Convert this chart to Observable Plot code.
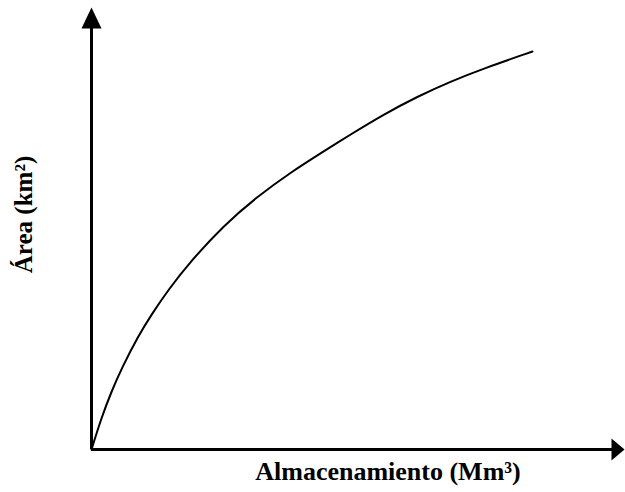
<!DOCTYPE html>
<html>
<head>
<meta charset="utf-8">
<script src="https://cdn.jsdelivr.net/npm/d3@7"></script>
<script src="https://cdn.jsdelivr.net/npm/@observablehq/plot@0.6"></script>
<style>
  body { margin: 0; background: #fff; }
  #chart svg { display: block; }
</style>
</head>
<body>
<div id="chart"></div>
<script>
// Curve (arbitrary units: storage vs. area)
const storage = [0, 10, 20, 30, 47, 60, 77, 99, 132, 166, 199, 232, 259, 292, 326, 359, 392, 441];
const area    = [0, 32, 58, 81, 114, 135, 160, 188, 224, 253, 277, 298, 315, 335, 353, 368, 381, 398];
const xMax = 533;
const yMax = 442;
const xLabel = "Almacenamiento (Mm³)";
const yLabel = "Área (km²)";

const curve = storage.map((s, i) => ({s, a: area[i]}));

const upHead = {draw(ctx) { ctx.moveTo(0, 0); ctx.lineTo(-10, 21); ctx.lineTo(10, 21); ctx.closePath(); }};
const rightHead = {draw(ctx) { ctx.moveTo(0, 0); ctx.lineTo(-13, -11); ctx.lineTo(-13, 11); ctx.closePath(); }};

const serif = "Liberation Serif, Tinos, DejaVu Serif, serif";

const chart = Plot.plot({
  width: 625,
  height: 492,
  marginLeft: 91,
  marginRight: 1,
  marginTop: 7,
  marginBottom: 43,
  x: {domain: [0, xMax], axis: null},
  y: {domain: [0, yMax], axis: null},
  style: {background: "#fff", fontFamily: serif},
  marks: [
    Plot.ruleX([0], {y1: 0, y2: yMax - 10, stroke: "#000", strokeWidth: 3}),
    Plot.ruleY([0], {x1: 0, x2: xMax - 10, stroke: "#000", strokeWidth: 3}),
    Plot.dot([{x: 0, y: yMax}], {x: "x", y: "y", symbol: upHead, fill: "#000", stroke: "none", r: 10}),
    Plot.dot([{x: xMax, y: 0}], {x: "x", y: "y", symbol: rightHead, fill: "#000", stroke: "none", r: 10}),
    Plot.line(curve, {x: "s", y: "a", curve: "basis", stroke: "#000", strokeWidth: 2}),
    Plot.text([xLabel], {frameAnchor: "bottom", textAnchor: "middle", lineAnchor: "middle", dx: 30, dy: 22,
      fontSize: 26, fontWeight: "bold", fontFamily: serif, fill: "#000"}),
    Plot.text([yLabel], {frameAnchor: "left", textAnchor: "middle", lineAnchor: "middle", rotate: -90, dx: -68, dy: -14,
      fontSize: 25, fontWeight: "bold", fontFamily: serif, fill: "#000"})
  ]
});
document.getElementById("chart").append(chart);
</script>
</body>
</html>
